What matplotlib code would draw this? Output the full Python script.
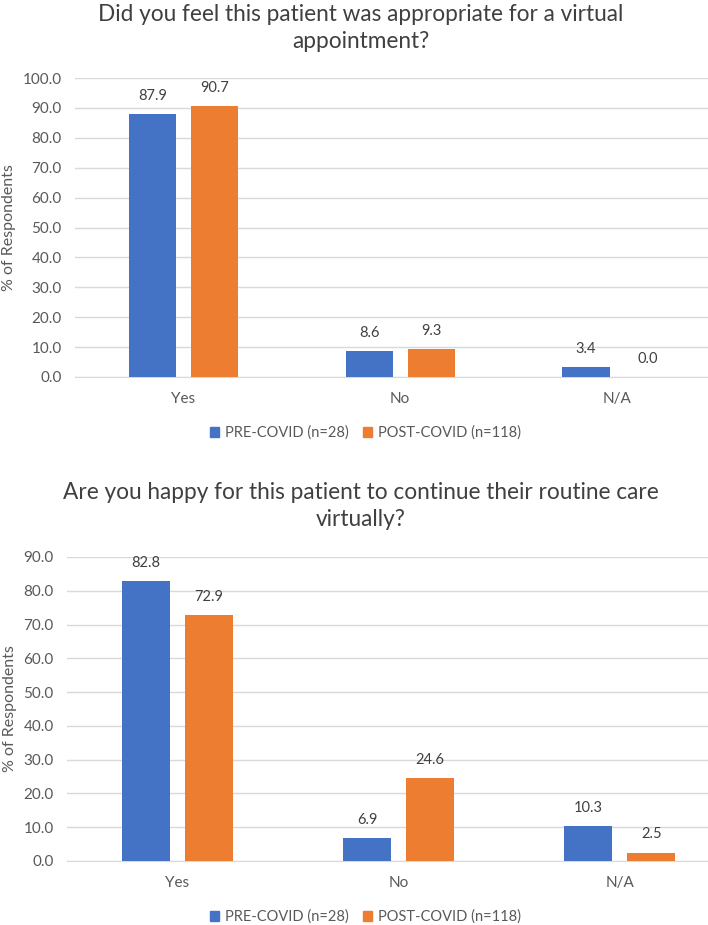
import matplotlib
matplotlib.use('Agg')
from matplotlib import pyplot as plt
from matplotlib.patches import Patch
import numpy as np

# data
categories = ['Yes', 'No', 'N/A']
series_names = ['PRE-COVID (n=28)', 'POST-COVID (n=118)']
q1_title = 'Did you feel this patient was appropriate for a virtual\nappointment?'
q1_pre = [87.9, 8.6, 3.4]
q1_post = [90.7, 9.3, 0.0]
q2_title = 'Are you happy for this patient to continue their routine care\nvirtually?'
q2_pre = [82.8, 6.9, 10.3]
q2_post = [72.9, 24.6, 2.5]

blue = '#4472C4'
orange = '#ED7D31'
grid_col = '#D9D9D9'
txt_col = '#595959'

plt.rcParams['font.family'] = ['Lato', 'DejaVu Sans']

fig = plt.figure(figsize=(7.08, 9.25), dpi=100)


def draw_panel(rect, title, pre, post, ymax, xmax, title_y, legend_y):
    ax = fig.add_axes(rect)
    x = np.arange(len(categories))
    w = 0.218
    off = 0.143
    b1 = ax.bar(x - off, pre, w, color=blue, zorder=3)
    b2 = ax.bar(x + off, post, w, color=orange, zorder=3)
    for bars, vals in ((b1, pre), (b2, post)):
        for b, v in zip(bars, vals):
            ax.annotate('%.1f' % v, (b.get_x() + b.get_width() / 2, v),
                        xytext=(0, 13), textcoords='offset points',
                        ha='center', va='center', fontsize=10.5, color='#404040')
    ax.set_xlim(-0.5, xmax)
    ax.set_ylim(0, ymax)
    ax.set_yticks(np.arange(0, ymax + 1, 10))
    ax.set_yticklabels(['%.1f' % t for t in np.arange(0, ymax + 1, 10)])
    ax.set_xticks(x)
    ax.set_xticklabels(categories)
    ax.yaxis.grid(True, color=grid_col, linewidth=1, zorder=0)
    ax.set_axisbelow(True)
    for s in ['top', 'right', 'left']:
        ax.spines[s].set_visible(False)
    ax.spines['bottom'].set_color(grid_col)
    ax.tick_params(axis='both', length=0, labelsize=11, colors=txt_col)
    ax.tick_params(axis='x', pad=11)
    ax.tick_params(axis='y', pad=9.5)
    ax.set_ylabel('% of Respondents', fontsize=11.5, color=txt_col, labelpad=5)
    fig.text(0.51, title_y, title, ha='center', va='center', fontsize=16.3,
             color='#404040', linespacing=1.3)
    handles = [Patch(color=blue), Patch(color=orange)]
    fig.legend(handles, series_names, loc='center', bbox_to_anchor=(0.516, legend_y),
               ncol=2, frameon=False, fontsize=10.5, labelcolor=txt_col,
               handlelength=0.6, handleheight=0.6, handletextpad=0.4, columnspacing=1.0)
    return ax


draw_panel([75 / 708, 1 - 377 / 925, 633 / 708, 299 / 925], q1_title, q1_pre, q1_post,
           100, 2.42, 1 - 28 / 925, 1 - 433 / 925)
draw_panel([67 / 708, 1 - 861 / 925, 641 / 708, 304 / 925], q2_title, q2_pre, q2_post,
           90, 2.40, 1 - 506 / 925, 1 - 917 / 925)

fig.savefig('out.png', dpi=100)
